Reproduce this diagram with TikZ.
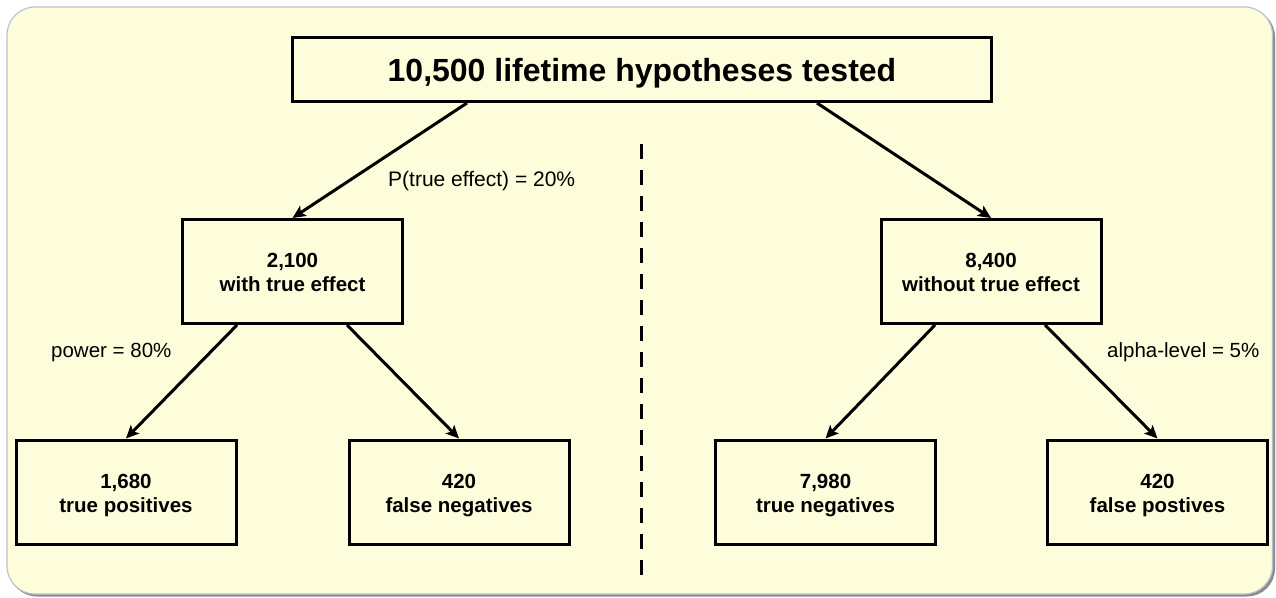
\documentclass[tikz,border=0pt]{standalone}
\usepackage{fontspec}
\setmainfont{Liberation Sans}
\usetikzlibrary{arrows.meta}
\definecolor{cream}{HTML}{FDFDDC}
\definecolor{frame}{HTML}{BFC3C8}
\definecolor{shadow}{HTML}{8A8C90}
\tikzset{
  box/.style={draw=black, line width=3pt, fill=cream, align=center, font=\bfseries\fontsize{20.5}{24}\selectfont, inner sep=0pt},
  smallbox/.style={box, minimum width=220pt, minimum height=104pt, text height=40pt, text depth=0pt},
  arr/.style={line width=3pt, -{Stealth[length=13pt,width=12pt,inset=3pt]}},
  lbl/.style={font=\fontsize{20.5}{24}\selectfont, inner sep=0pt, anchor=west},
  divider/.style={line width=3pt, dash pattern=on 15pt off 11pt}
}
\begin{document}
\begin{tikzpicture}[x=1pt,y=-1pt]
\useasboundingbox (0,0) rectangle (1276,597);
% background panel
\fill[shadow, rounded corners=28pt] (9,9) rectangle (1275,596.5);
\filldraw[fill=cream, draw=frame, line width=1.2pt, rounded corners=28pt] (7,7) rectangle (1272.5,594);

% nodes
\node[box, minimum width=699pt, minimum height=64pt, font=\bfseries\fontsize{32}{36}\selectfont, execute at begin node={\rule{0pt}{31pt}}] (top) at (642,69.5) {10,500 lifetime hypotheses tested};
\node[smallbox] (withE) at (292.5,271.5) {2,100\\with true effect};
\node[smallbox] (withoutE) at (991,271.5) {8,400\\without true effect};
\node[smallbox] (tp) at (126,492) {1,680\\true positives};
\node[smallbox] (fn) at (459,492) {420\\false negatives};
\node[smallbox] (tn) at (825.5,492) {7,980\\true negatives};
\node[smallbox] (fp) at (1157.5,492) {420\\false postives};

% connectors
\draw[arr] ([xshift=-175pt]top.south) -- (withE.north);
\draw[arr] ([xshift=175pt]top.south) -- (withoutE.north);
\draw[arr] ([xshift=-55.5pt]withE.south) -- (tp.north);
\draw[arr] ([xshift=54.5pt]withE.south) -- (fn.north);
\draw[arr] ([xshift=-56pt]withoutE.south) -- (tn.north);
\draw[arr] ([xshift=54pt]withoutE.south) -- (fp.north);

% labels
\node[lbl, font=\fontsize{21}{24}\selectfont] (pte) at (388,181) {P(true effect) = 20\%};
\node[lbl] (pow) at (51,352) {power = 80\%};
\node[lbl] (alp) at (1107,352) {alpha-level = 5\%};

% divider
\coordinate (dtop) at (641,144);
\coordinate (dbot) at (641,586);
\draw[divider] (dtop) -- (dbot);
\end{tikzpicture}
\end{document}
